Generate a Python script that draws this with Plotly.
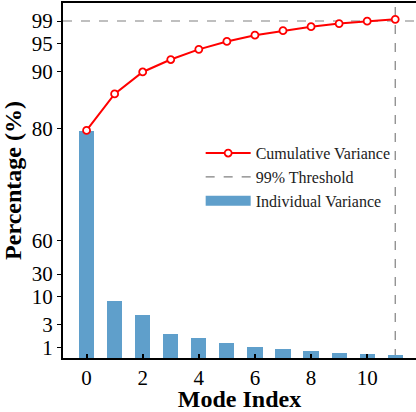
import numpy as np
import plotly.graph_objects as go

# ---- data ----
mode_index = list(range(12))
individual_variance = [79.5, 8.9, 5.25, 2.2, 1.84, 1.41, 1.06, 0.88, 0.69, 0.5, 0.41, 0.31]
cumulative_variance = [79.6, 86.1, 90.0, 92.2, 94.0, 95.4, 96.5, 97.3, 98.0, 98.55, 98.97, 99.3]
threshold = 99
threshold_mode = 11
y_tick_values = [1, 3, 10, 30, 60, 80, 90, 95, 99]
x_tick_values = [0, 2, 4, 6, 8, 10]

# ---- custom (piecewise) y scale: value -> scale units ----
SCALE_VALUES = [0, 1, 3, 10, 30, 60, 80, 90, 95, 99, 110]
SCALE_UNITS = [0, 10.6, 33.6, 61.6, 84.0, 117.6, 230.0, 286.3, 314.6, 337.3, 399.3]


def fwd(v):
    return np.interp(np.asarray(v, dtype=float), SCALE_VALUES, SCALE_UNITS)


FONT = "Liberation Serif, serif"
RED = "#ff0000"
BLUE = "#5f9fcb"
GRAY = "#808080"

fig = go.Figure()

fig.add_trace(go.Bar(
    x=mode_index, y=fwd(individual_variance), width=0.54,
    marker=dict(color=BLUE, line=dict(width=0)),
    name="Individual Variance", showlegend=False,
    customdata=individual_variance, hovertemplate="%{customdata}<extra></extra>",
))

fig.add_trace(go.Scatter(
    x=mode_index, y=fwd(cumulative_variance), mode="lines+markers",
    line=dict(color=RED, width=2),
    marker=dict(symbol="circle", size=7, color="white", line=dict(color=RED, width=1.8)),
    name="Cumulative Variance", legendrank=1,
))

# legend proxies
fig.add_trace(go.Scatter(
    x=[None], y=[None], mode="lines",
    line=dict(color=GRAY, width=1.2, dash="dash"),
    name="99% Threshold", legendrank=2,
))
fig.add_trace(go.Scatter(
    x=[None], y=[None], mode="lines",
    line=dict(color=BLUE, width=13),
    name="Individual Variance", legendrank=3,
))

fig.add_shape(type="line", xref="paper", x0=0, x1=1, yref="y",
              y0=float(fwd(threshold)), y1=float(fwd(threshold)),
              line=dict(color=GRAY, width=1.2, dash="dash"), layer="below")
fig.add_shape(type="line", xref="x", x0=threshold_mode, x1=threshold_mode, yref="paper",
              y0=0, y1=1, line=dict(color=GRAY, width=1.2, dash="dash"), layer="below")

fig.update_layout(
    width=416, height=412,
    margin=dict(l=63, r=0, t=3, b=54),
    paper_bgcolor="white", plot_bgcolor="white",
    font=dict(family=FONT, color="black", size=21),
    showlegend=True,
    legend=dict(
        x=0.39, y=0.625, xanchor="left", yanchor="top",
        bgcolor="rgba(0,0,0,0)", borderwidth=0,
        font=dict(family=FONT, size=16, color="#222222"),
        itemwidth=45,
        tracegroupgap=0,
    ),
    bargap=0,
)

fig.update_xaxes(
    range=[-0.84, 11.74],
    tickvals=x_tick_values, ticktext=[str(v) for v in x_tick_values],
    ticks="inside", ticklen=4, tickwidth=1.5, tickcolor="black",
    showline=True, linecolor="black", linewidth=2, mirror=True,
    showgrid=False, zeroline=False,
    tickfont=dict(family=FONT, size=21, color="black"),
    title=dict(text="<b>Mode Index</b>", font=dict(family=FONT, size=24, color="black"), standoff=4),
)

fig.update_yaxes(
    range=[0, float(fwd(102.2))],
    tickvals=fwd(y_tick_values).tolist(), ticktext=[str(v) for v in y_tick_values],
    ticks="outside", ticklen=4, tickwidth=1, tickcolor="black",
    showline=True, linecolor="black", linewidth=2, mirror=False,
    showgrid=False, zeroline=False,
    tickfont=dict(family=FONT, size=21, color="black"),
    title=dict(text="<b>Percentage (%)</b>", font=dict(family=FONT, size=24, color="black"), standoff=6),
)

fig.write_html("out.html")
